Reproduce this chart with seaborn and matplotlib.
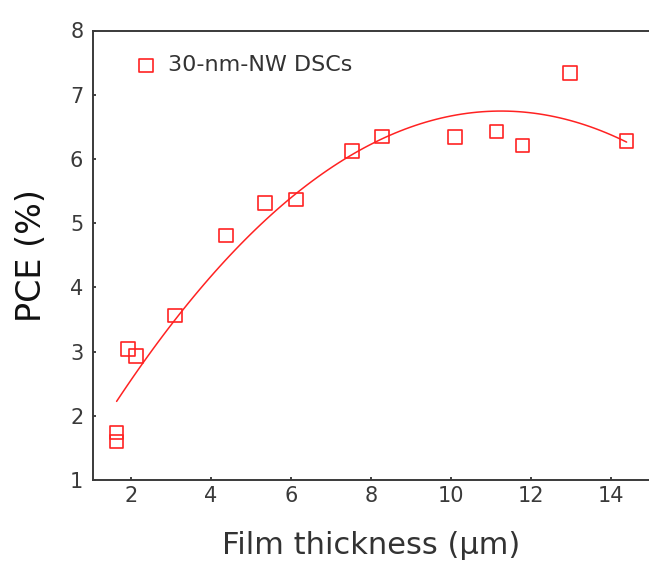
import matplotlib
matplotlib.use("Agg")
import matplotlib.pyplot as plt
import seaborn as sns
import pandas as pd

# Film thickness (um) and power conversion efficiency (%) of 30-nm-NW DSCs
thickness = [1.64, 1.64, 1.92, 2.12, 3.10, 4.38, 5.35, 6.13, 7.53, 8.28,
             10.10, 11.14, 11.79, 12.98, 14.39]
pce = [1.74, 1.60, 3.04, 2.93, 3.56, 4.81, 5.31, 5.37, 6.12, 6.35,
       6.34, 6.43, 6.21, 7.34, 6.28]
series_label = "30-nm-NW DSCs"
x_ticks = [2, 4, 6, 8, 10, 12, 14]
y_ticks = [1, 2, 3, 4, 5, 6, 7, 8]

df = pd.DataFrame({"thickness": thickness, "pce": pce})

sns.set_style("white")
plt.rcParams["font.family"] = ["DejaVu Sans"]

red = "#ff2222"
fig = plt.figure(figsize=(6.49, 5.62), dpi=100)
ax = fig.add_axes([93 / 649, 1 - 480 / 562, 1 - 93 / 649, (480 - 30.5) / 562])

# second-order polynomial fit through the measurements
sns.regplot(data=df, x="thickness", y="pce", order=2, ci=None, scatter=False,
            line_kws=dict(color=red, lw=1.1), ax=ax)
sns.scatterplot(data=df, x="thickness", y="pce", marker="s", s=95,
                facecolor="none", edgecolor=red, linewidth=1.2,
                label=series_label, ax=ax, zorder=3)

ax.set_xlim(1.05, 14.95)
ax.set_ylim(1, 8)
ax.set_xticks(x_ticks)
ax.set_yticks(y_ticks)

for side in ["left", "bottom", "top"]:
    ax.spines[side].set_visible(True)
    ax.spines[side].set_color("#3a3a3a")
    ax.spines[side].set_linewidth(1.4)
ax.spines["right"].set_visible(False)

ax.tick_params(axis="both", direction="in", length=2.5, width=1.2,
               color="#222222", labelsize=15, labelcolor="#3a3a3a")
ax.tick_params(axis="x", pad=4, bottom=True)
ax.tick_params(axis="y", pad=7, left=True)

ax.set_xlabel("Film thickness (\u03bcm)", fontsize=22, color="#333333", labelpad=18)
ax.set_ylabel("PCE (%)", fontsize=24, color="#111111", labelpad=16)

leg = ax.legend(loc="center left", bbox_to_anchor=(0.073, 0.923), frameon=False,
                fontsize=16, handletextpad=0.45, handlelength=1.1,
                borderaxespad=0, borderpad=0)
for t in leg.get_texts():
    t.set_color("#333333")

fig.savefig("out.png", dpi=100)
